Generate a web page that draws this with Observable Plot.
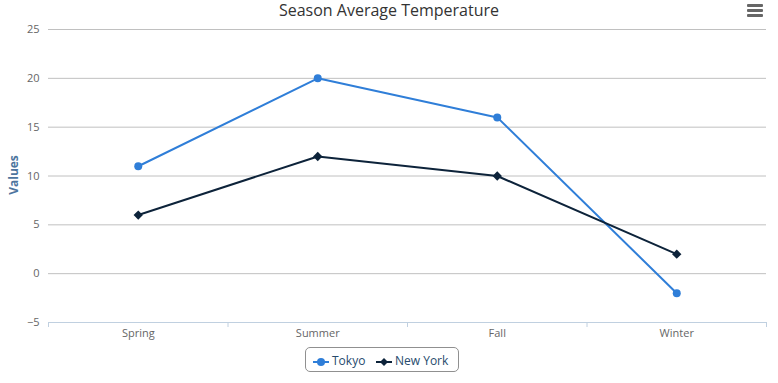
<!DOCTYPE html>
<html>
<head>
<meta charset="utf-8">
<script src="https://cdn.jsdelivr.net/npm/d3@7"></script>
<script src="https://cdn.jsdelivr.net/npm/@observablehq/plot@0.6"></script>
<style>
  body { margin: 0; background: #fff; font-family: "Open Sans", sans-serif; }
  #wrap { position: relative; width: 778px; height: 383px; overflow: hidden; }
  #chart { position: absolute; left: 0; top: 0; }
  #title { position: absolute; left: 0; width: 778px; top: 1px; line-height: 18px; text-align: center; font-size: 16px; color: #333; }
  #ytitle { position: absolute; left: 13px; top: 175px; transform: translate(-50%, -50%) rotate(-90deg); font-size: 12px; font-weight: bold; color: #4d759e; white-space: nowrap; }
  #menu { position: absolute; left: 747px; top: 4px; width: 16px; }
  #menu div { height: 2.5px; background: #666; margin-bottom: 2.5px; border-radius: 1px; }
  #legend { position: absolute; left: 305px; top: 347px; width: 154px; height: 25px; border: 1px solid #909090; border-radius: 5px; box-sizing: border-box; }
  .item { position: absolute; top: 4px; font-size: 12px; color: #274b6d; }
  .item svg { vertical-align: middle; margin-right: 3px; }
</style>
</head>
<body>
<div id="wrap">
  <div id="chart"></div>
  <div id="title">Season Average Temperature</div>
  <div id="ytitle">Values</div>
  <div id="menu"><div></div><div></div><div></div></div>
  <div id="legend">
    <div class="item" style="left:7px"><svg width="16" height="10"><line x1="0" y1="5" x2="16" y2="5" stroke="#2f7ed8" stroke-width="2"/><circle cx="8" cy="5" r="4" fill="#2f7ed8"/></svg>Tokyo</div>
    <div class="item" style="left:70px"><svg width="16" height="10"><line x1="0" y1="5" x2="16" y2="5" stroke="#0d233a" stroke-width="2"/><path d="M8,1 L12,5 L8,9 L4,5 Z" fill="#0d233a"/></svg>New York</div>
  </div>
</div>
<script>
const seasons = ["Spring", "Summer", "Fall", "Winter"];
const tokyo = [11, 20, 16, -2];
const newYork = [6, 12, 10, 2];
const yTicks = [-5, 0, 5, 10, 15, 20, 25];

const seriesColors = {Tokyo: "#2f7ed8", "New York": "#0d233a"};
const data = [
  ...seasons.map((s, i) => ({series: "Tokyo", i, season: s, value: tokyo[i]})),
  ...seasons.map((s, i) => ({series: "New York", i, season: s, value: newYork[i]}))
];
const tk = data.filter(d => d.series === "Tokyo");
const ny = data.filter(d => d.series === "New York");
const boundaries = d3.range(seasons.length + 1).map(k => k - 0.5);

const chart = Plot.plot({
  width: 778,
  height: 383,
  marginLeft: 48,
  marginRight: 12,
  marginTop: 29,
  marginBottom: 61,
  style: {fontFamily: "'Open Sans', sans-serif", fontSize: "11px", color: "#666", background: "transparent"},
  x: {type: "linear", domain: [-0.5, seasons.length - 0.5], axis: null},
  y: {domain: [-5, 25], axis: null},
  marks: [
    Plot.ruleY(yTicks.filter(t => t > -5), {stroke: "#C0C0C0", strokeWidth: 1}),
    Plot.ruleY([-5], {stroke: "#C0D0E0", strokeWidth: 1}),
    Plot.axisX({ticks: boundaries, tickFormat: () => "", tickSize: 5, stroke: "#C0D0E0", strokeOpacity: 1, label: null}),
    Plot.axisX({ticks: d3.range(seasons.length), tickFormat: i => seasons[i], tickSize: 0, tickPadding: 7, fill: "#666", label: null}),
    Plot.axisY({ticks: yTicks, tickSize: 0, tickPadding: 9, fill: "#666", label: null, tickFormat: d => d < 0 ? "\u2212" + Math.abs(d) : String(d)}),
    Plot.line(tk, {x: "i", y: "value", stroke: seriesColors.Tokyo, strokeWidth: 2}),
    Plot.line(ny, {x: "i", y: "value", stroke: seriesColors["New York"], strokeWidth: 2}),
    Plot.dot(tk, {x: "i", y: "value", r: 4, fill: seriesColors.Tokyo, symbol: "circle"}),
    Plot.dot(ny, {x: "i", y: "value", r: 4.2, fill: seriesColors["New York"], symbol: d3.symbolDiamond2})
  ]
});
document.getElementById("chart").appendChild(chart);
</script>
</body>
</html>
